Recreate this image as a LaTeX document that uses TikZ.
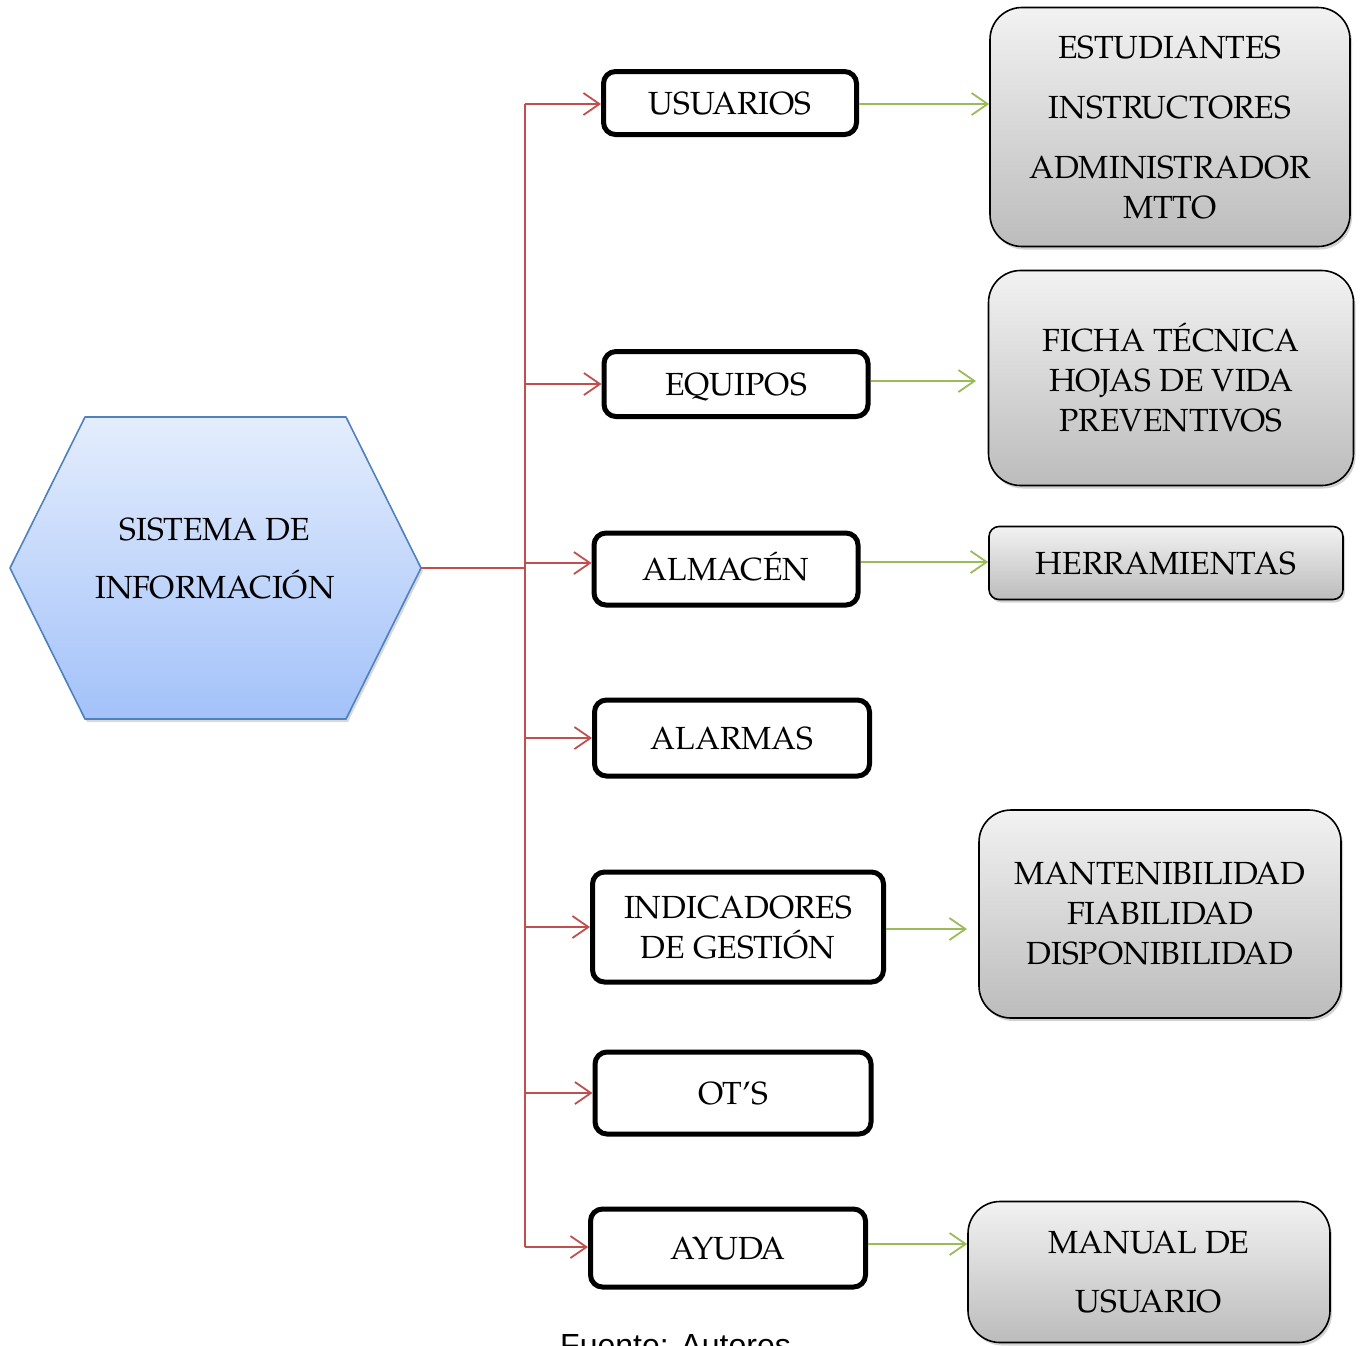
\documentclass[tikz,border=0pt]{standalone}
\usepackage{fontspec}
\setmainfont{TeX Gyre Pagella}
\newfontfamily\notefont{Liberation Sans}
\usetikzlibrary{arrows.meta,shadows}

\definecolor{linkred}{HTML}{C0504D}
\definecolor{linkgreen}{HTML}{9BBB59}
\definecolor{hexedge}{HTML}{4F81BD}
\definecolor{hextop}{HTML}{E4EDFD}
\definecolor{hexbottom}{HTML}{A3C2F9}
\definecolor{greytop}{HTML}{F2F2F2}
\definecolor{greybottom}{HTML}{BCBCBC}

\tikzset{
  labelfont/.style={font=\fontsize{32}{40}\selectfont},
  capline/.style={text height=23pt, text depth=0pt},
  itembox/.style={labelfont, draw=black, line width=5pt, rounded corners=12pt,
    fill=white, inner sep=0pt, align=center},
  detailbox/.style={labelfont, draw=black, line width=1.6pt, rounded corners=32pt,
    top color=greytop, bottom color=greybottom, inner sep=0pt, align=center,
    drop shadow={opacity=0.35, shadow xshift=2pt, shadow yshift=-3pt}},
  redlink/.style={draw=linkred, line width=1.8pt},
  redarrow/.style={redlink, -{Straight Barb[length=16pt, width=22pt]}},
  greenarrow/.style={draw=linkgreen, line width=1.8pt, -{Straight Barb[length=16pt, width=22pt]}},
}

\begin{document}
\begin{tikzpicture}[x=1pt, y=-1pt]
\useasboundingbox (0,0) rectangle (1362,1345);
\clip (0,0) rectangle (1362,1345);

% central hexagon
\coordinate (hexL) at (10,568);
\coordinate (hexTL) at (85,417);
\coordinate (hexTR) at (346,417);
\coordinate (hexR) at (421,568);
\coordinate (hexBR) at (346,719);
\coordinate (hexBL) at (85,719);
\path[draw=hexedge, line width=1.6pt, line join=round, top color=hextop, bottom color=hexbottom,
      drop shadow={opacity=0.3, shadow xshift=2pt, shadow yshift=-3pt}]
  (hexL) -- (hexTL) -- (hexTR) -- (hexR) -- (hexBR) -- (hexBL) -- cycle;
\node[labelfont, align=center] (hex) at (215,558) {SISTEMA DE\\[18pt]INFORMACIÓN};

% first-level boxes
\node[itembox, capline, minimum width=253pt, minimum height=63pt] (usuarios) at (730,103) {USUARIOS};
\node[itembox, capline, minimum width=264pt, minimum height=65pt] (equipos) at (736,384) {EQUIPOS};
\node[itembox, capline, minimum width=264pt, minimum height=72pt] (almacen) at (726,569) {ALMACÉN};
\node[itembox, capline, minimum width=275pt, minimum height=76pt] (alarmas) at (732,738) {ALARMAS};
\node[itembox, minimum width=291pt, minimum height=110pt] (indicadores) at (738,927) {INDICADORES\\DE GESTIÓN};
\node[itembox, capline, minimum width=276pt, minimum height=82pt] (ots) at (733,1093) {OT’S};
\node[itembox, capline, minimum width=275pt, minimum height=78pt] (ayuda) at (728,1248) {AYUDA};

% detail boxes
\node[detailbox, minimum width=360pt, minimum height=239pt] (b1) at (1170,127)
  {ESTUDIANTES\\[20pt]INSTRUCTORES\\[20pt]ADMINISTRADOR\\MTTO};
\node[detailbox, minimum width=365pt, minimum height=215pt] (b2) at (1171,378)
  {FICHA TÉCNICA\\HOJAS DE VIDA\\PREVENTIVOS};
\node[detailbox, capline, rounded corners=10pt, minimum width=354pt, minimum height=73pt] (b3) at (1166,563)
  {HERRAMIENTAS};
\node[detailbox, minimum width=362pt, minimum height=208pt] (b4) at (1160,914)
  {MANTENIBILIDAD\\FIABILIDAD\\DISPONIBILIDAD};
\node[detailbox, minimum width=362pt, minimum height=141pt] (b5) at (1149,1272)
  {MANUAL DE\\[19pt]USUARIO};

% red trunk and branches
\coordinate (trunkTop) at (525,104);
\coordinate (trunkMid) at (525,568);
\coordinate (trunkBot) at (525,1247);
\draw[redlink] (hexR) -- (trunkMid);
\draw[redlink] (trunkTop) -- (trunkBot);
\draw[redarrow] (trunkTop) -- (usuarios.west |- trunkTop);
\draw[redarrow] (equipos.west -| trunkTop) -- (equipos.west);
\draw[redarrow] (trunkTop |- 0,563) -- (almacen.west |- 0,563);
\draw[redarrow] (alarmas.west -| trunkTop) -- (alarmas.west);
\draw[redarrow] (indicadores.west -| trunkTop) -- (indicadores.west);
\draw[redarrow] (ots.west -| trunkTop) -- (ots.west);
\draw[redarrow] (trunkBot) -- (ayuda.west |- trunkBot);

% green links to detail boxes
\draw[greenarrow] (usuarios.east |- 0,104) -- (b1.west |- 0,104);
\draw[greenarrow] (equipos.east |- 0,381) -- (976,381);
\draw[greenarrow] (almacen.east |- 0,562) -- (b3.west |- 0,562);
\draw[greenarrow] (indicadores.east |- 0,929) -- (967,929);
\draw[greenarrow] (ayuda.east |- 0,1244) -- (b5.west |- 0,1244);

% source note, cut by the page edge
\node[font=\notefont\fontsize{32}{38}\selectfont, anchor=base west, inner sep=0pt] (source) at (560,1356) {Fuente: Autores};
\end{tikzpicture}
\end{document}
